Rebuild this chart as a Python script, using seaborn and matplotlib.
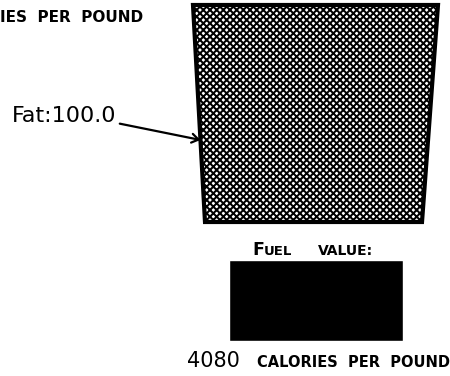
import matplotlib
matplotlib.use("Agg")
import matplotlib.pyplot as plt
import seaborn as sns
import pandas as pd

# Composition of the food, percent by weight
nutrients = ["Fat"]
percent = [100.0]
# Fuel value, calories per pound
fuel_labels = ["Fuel value"]
fuel_calories = [4080]

sns.set_theme(style="white")
plt.rcParams["font.family"] = ["DejaVu Sans"]
plt.rcParams["text.color"] = "black"
plt.rcParams["hatch.linewidth"] = 1.45
plt.rcParams["hatch.color"] = "black"

W, H = 450, 376
fig = plt.figure(figsize=(W / 100, H / 100), dpi=100)
fig.patch.set_facecolor("white")


def fx(px):
    return px / W


def fy(py):
    return 1 - py / H


# Composition column, drawn in slight perspective (narrower at the base)
top_l, top_r, bot_l, bot_r = 193, 438, 205, 422
col_top, col_bot = 5, 222
ax1 = fig.add_axes([fx(top_l), fy(col_bot), (top_r - top_l) / W, (col_bot - col_top) / H])
ax1.set_xlim(0, 1)
ax1.set_ylim(0, sum(percent))
ax1.set_axis_off()

inset_l = (bot_l - top_l) / (top_r - top_l)
inset_r = (top_r - bot_r) / (top_r - top_l)
base = 0.0
total = sum(percent)
for name, val in zip(nutrients, percent):
    y0, y1 = base, base + val
    # edges taper linearly from the top down to the base
    l0 = inset_l * (1 - y0 / total)
    l1 = inset_l * (1 - y1 / total)
    r0 = 1 - inset_r * (1 - y0 / total)
    r1 = 1 - inset_r * (1 - y1 / total)
    ax1.fill([l0, r0, r1, l1], [y0, y0, y1, y1], facecolor="white",
             edgecolor="black", hatch="xxxxx", linewidth=3, clip_on=False)
    # label with an arrow pointing at the column's left edge
    ya = y0 + val * 0.378
    xa = inset_l * (1 - ya / total)
    ax1.annotate(f"{name}:{val:.1f}", xy=(xa, ya), xycoords="data",
                 xytext=(fx(12), fy(116)), textcoords="figure fraction",
                 ha="left", va="center", fontsize=16, color="black",
                 arrowprops=dict(arrowstyle="->,head_length=0.3,head_width=0.2",
                                 color="black", lw=1.6,
                                 shrinkA=0, shrinkB=0,
                                 relpos=(1.0, 0.15)))
    base = y1

# Fuel value block
ax2 = fig.add_axes([fx(229), fy(341), (403 - 229) / W, (341 - 260) / H])
fuel_df = pd.DataFrame({"label": fuel_labels, "calories": fuel_calories})
sns.barplot(data=fuel_df, x="label", y="calories", color="black",
            saturation=1, width=1.0, ax=ax2)
ax2.set_xlim(-0.5, 0.5)
ax2.set_ylim(0, fuel_calories[0])
ax2.set_axis_off()

# "Fuel value:" heading in small capitals
fig.text(fx(252), fy(255), "F", fontsize=12.5, fontweight="bold",
         ha="left", va="baseline")
fig.text(fx(264), fy(255), "UEL", fontsize=9.5, fontweight="bold",
         ha="left", va="baseline")
fig.text(fx(318), fy(255), "VALUE:", fontsize=10, fontweight="bold",
         ha="left", va="baseline")

# Fuel value caption
fig.text(fx(187), fy(367), f"{fuel_calories[0]}", fontsize=15,
         ha="left", va="baseline")
fig.text(fx(257), fy(367), "CALORIES  PER  POUND", fontsize=10.5,
         fontweight="bold", ha="left", va="baseline")

# tail of the neighbouring panel's caption at the top-left edge
fig.text(fx(0), fy(22), "IES  PER  POUND", fontsize=11,
         fontweight="bold", ha="left", va="baseline")

fig.savefig("out.png", dpi=100, facecolor="white")
